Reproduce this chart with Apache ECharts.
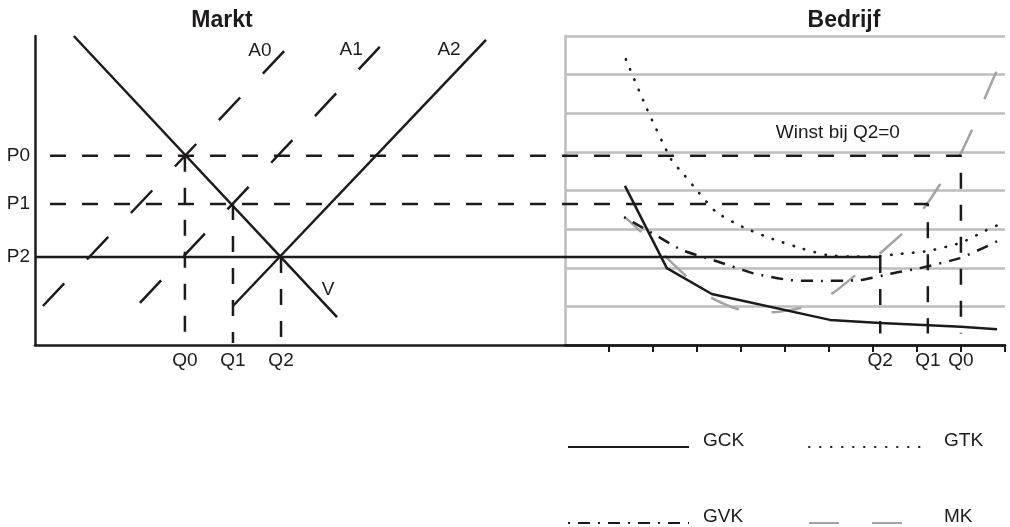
<!DOCTYPE html>
<html><head><meta charset="utf-8">
<script src="https://cdn.jsdelivr.net/npm/echarts@6/dist/echarts.min.js"></script>
<style>html,body{margin:0;padding:0;background:#fff}#c{width:1010px;height:527px}</style>
</head><body><div id="c"></div>
<script>
// ---------- data ----------
const marketQ = [3.40, 4.49, 5.58];          // Q0, Q1, Q2 (Markt)
const firmQ = [21.00, 20.25, 19.17];         // Q0, Q1, Q2 (Bedrijf)
const priceLevels = [4.90, 3.65, 2.28];      // P0, P1, P2
const priceLabels = ['P0', 'P1', 'P2'];
const quantityLabels = ['Q0', 'Q1', 'Q2'];
const marketDropTo = 0.05;
const firmDropTo = 0.30;

const demandV  = [[0.88, 8.00], [6.85, 0.72]];
const supplyA0 = [[0.18, 1.01], [5.65, 7.61]];
const supplyA1 = [[2.38, 1.09], [7.82, 7.72]];
const supplyA2 = [[4.49, 1.01], [10.23, 7.90]];

const gck = [[13.38, 4.12], [14.33, 1.99], [15.35, 1.32], [18.03, 0.65], [19.17, 0.57], [21.00, 0.47], [21.82, 0.41]];
const gtk = [[13.40, 7.40], [13.88, 6.11], [14.42, 4.82], [14.74, 4.38], [15.06, 3.94], [15.45, 3.44], [16.06, 3.05],
             [16.74, 2.74], [17.42, 2.49], [17.96, 2.33], [18.48, 2.29], [19.01, 2.29], [19.62, 2.36], [20.23, 2.43],
             [20.98, 2.64], [21.59, 2.98], [21.89, 3.13]];
const gvk = [[13.36, 3.31], [13.95, 2.93], [14.67, 2.46], [15.38, 2.20], [16.28, 1.86], [17.12, 1.68], [17.74, 1.66],
             [18.71, 1.68], [19.46, 1.86], [20.07, 1.99], [20.98, 2.25], [21.50, 2.51], [21.89, 2.72]];
const mk  = [[13.38, 3.31], [13.77, 2.90], [14.29, 2.30], [14.79, 1.76], [15.35, 1.22], [15.99, 0.91], [16.74, 0.85],
             [17.42, 0.98], [18.10, 1.35], [18.64, 1.84], [19.17, 2.38], [19.73, 2.95], [20.25, 3.68], [20.59, 4.27],
             [21.00, 4.97], [21.32, 5.75], [21.59, 6.52], [21.89, 7.30]];

const firmTicks = [13, 14, 15, 16, 17, 18, 19, 20, 21, 22];
const curveLabelNames = ['A0', 'A1', 'A2', 'V', 'Winst bij Q2=0'];
const curveLabelAnchors = [[5.10, 7.61], [7.17, 7.64], [9.39, 7.64], [6.65, 1.42], [18.21, 5.49]];

// ---------- styling ----------
const FONT = '"Liberation Sans", Arial, Helvetica, sans-serif';
const INK = '#1d1a1b';
const GRAY = '#bdbdbd';
const MKGRAY = '#a3a3a3';
const LW = 2.5;

const allQ = marketQ.concat(firmQ);
const allQLabels = quantityLabels.concat(quantityLabels);
function labelFor(values, labels, v) {
  let best = 0, d = Infinity;
  values.forEach((x, i) => { const e = Math.abs(x - v); if (e < d) { d = e; best = i; } });
  return labels[best];
}

function line(name, data, lineStyle, extra) {
  return Object.assign({
    type: 'line', name: name, data: data, symbol: 'none', silent: true,
    xAxisIndex: 0, yAxisIndex: 0, animation: false,
    emphasis: { disabled: true },
    lineStyle: Object.assign({ color: INK, width: LW }, lineStyle)
  }, extra || {});
}

const series = [
  line('MK', mk, { color: MKGRAY, width: LW, type: [30, 33], dashOffset: 8 }, { smooth: 0.2, z: 2 }),
  line('GCK', gck, { type: 'solid' }, { z: 3 }),
  line('GTK', gtk, { width: 2.6, type: [0.5, 10.5], cap: 'round' }, { smooth: 0.2, z: 3 }),
  line('GVK', gvk, { width: LW, type: [2, 8, 12, 8] }, { smooth: 0.2, z: 3 }),
  line('demandV', demandV, {}, { z: 3 }),
  line('supplyA2', supplyA2, {}, { z: 3 }),
  line('supplyA0', supplyA0, { type: [31, 33] }, { z: 3 }),
  line('supplyA1', supplyA1, { type: [31, 33] }, { z: 3 }),
  line('p0path', [[0, priceLevels[0]], [firmQ[0], priceLevels[0]], [firmQ[0], firmDropTo]], { type: [16, 16], dashOffset: 17 }, { z: 3 }),
  line('p1path', [[0, priceLevels[1]], [firmQ[1], priceLevels[1]], [firmQ[1], firmDropTo]], { type: [16, 16], dashOffset: 17 }, { z: 3 }),
  line('p2path', [[0, priceLevels[2]], [firmQ[2], priceLevels[2]]], {}, { z: 3 }),
  line('q2firm', [[firmQ[2], priceLevels[2]], [firmQ[2], firmDropTo]], { type: [16, 16] }, { z: 3 }),
  line('q0market', [[marketQ[0], priceLevels[0]], [marketQ[0], marketDropTo]], { type: [16, 16] }, { z: 3 }),
  line('q1market', [[marketQ[1], priceLevels[1]], [marketQ[1], marketDropTo]], { type: [16, 16] }, { z: 3 }),
  line('q2market', [[marketQ[2], priceLevels[2]], [marketQ[2], marketDropTo]], { type: [16, 16] }, { z: 3 }),
  {
    type: 'scatter', name: 'labels', silent: true, animation: false,
    xAxisIndex: 0, yAxisIndex: 0, symbolSize: 0, z: 5,
    itemStyle: { opacity: 1 },
    data: curveLabelNames.map((n, i) => ({ name: n, value: curveLabelAnchors[i] })),
    label: { show: true, position: 'inside', opacity: 1, formatter: p => p.name, color: INK, fontSize: 19, fontFamily: FONT },
    emphasis: { disabled: true }
  }
];

function legend(name, left, top) {
  return {
    data: [name], left: left, top: top, orient: 'horizontal',
    itemWidth: 121, itemHeight: 14, selectedMode: false,
    itemStyle: { opacity: 0, color: 'rgba(0,0,0,0)', borderWidth: 0 },
    lineStyle: name === 'MK' ? { dashOffset: 0 } : {},
    formatter: n => '{t|' + n + '}\n{s|}',
    textStyle: {
      color: INK, fontSize: 19, fontFamily: FONT,
      rich: {
        t: { color: INK, fontSize: 19, fontFamily: FONT, lineHeight: 20, padding: [0, 0, 0, 9] },
        s: { fontSize: 1, lineHeight: 13 }
      }
    }
  };
}

const option = {
  backgroundColor: '#ffffff',
  animation: false,
  textStyle: { fontFamily: FONT },
  grid: [
    { left: 35, right: 5, top: 36, bottom: 182, outerBoundsMode: 'none', containLabel: false },
    { left: 565, right: 5, top: 36, bottom: 182, outerBoundsMode: 'none', containLabel: false }
  ],
  xAxis: [
    {
      type: 'value', gridIndex: 0, min: 0, max: 22,
      axisLine: { show: true, onZero: false, lineStyle: { color: INK, width: LW } },
      axisTick: { show: false }, splitLine: { show: false },
      axisLabel: {
        show: true, customValues: allQ, margin: 6, color: INK, fontSize: 19, fontFamily: FONT,
        formatter: v => labelFor(allQ, allQLabels, v)
      }
    },
    {
      type: 'value', gridIndex: 1, min: 12, max: 22, interval: 1,
      axisLine: { show: true, onZero: false, lineStyle: { color: INK, width: LW } },
      axisTick: { show: true, inside: false, length: 7, customValues: firmTicks, lineStyle: { color: INK, width: 2 } },
      splitLine: { show: false }, axisLabel: { show: false }
    }
  ],
  yAxis: [
    {
      type: 'value', gridIndex: 0, min: 0, max: 8,
      axisLine: { show: true, onZero: false, lineStyle: { color: INK, width: LW } },
      axisTick: { show: false }, splitLine: { show: false },
      axisLabel: {
        show: true, customValues: priceLevels, margin: 5, color: INK, fontSize: 19, fontFamily: FONT,
        formatter: v => labelFor(priceLevels, priceLabels, v)
      }
    },
    {
      type: 'value', gridIndex: 1, min: 0, max: 8, interval: 1,
      axisLine: { show: true, onZero: false, lineStyle: { color: GRAY, width: LW } },
      axisTick: { show: false }, axisLabel: { show: false },
      splitLine: { show: true, showMinLine: false, lineStyle: { color: GRAY, width: LW } }
    }
  ],
  legend: [
    legend('GCK', 562, 426),
    legend('GTK', 803, 426),
    legend('GVK', 562, 502),
    legend('MK', 803, 502)
  ],
  graphic: [
    { type: 'text', x: 222, y: 21, style: { text: 'Markt', align: 'center', verticalAlign: 'middle', fill: INK, font: 'bold 23px ' + FONT } },
    { type: 'text', x: 844, y: 21, style: { text: 'Bedrijf', align: 'center', verticalAlign: 'middle', fill: INK, font: 'bold 23px ' + FONT } }
  ],
  series: series
};

const chart = echarts.init(document.getElementById('c'), null, { renderer: 'canvas' });
chart.setOption(option);
</script>
</body></html>
